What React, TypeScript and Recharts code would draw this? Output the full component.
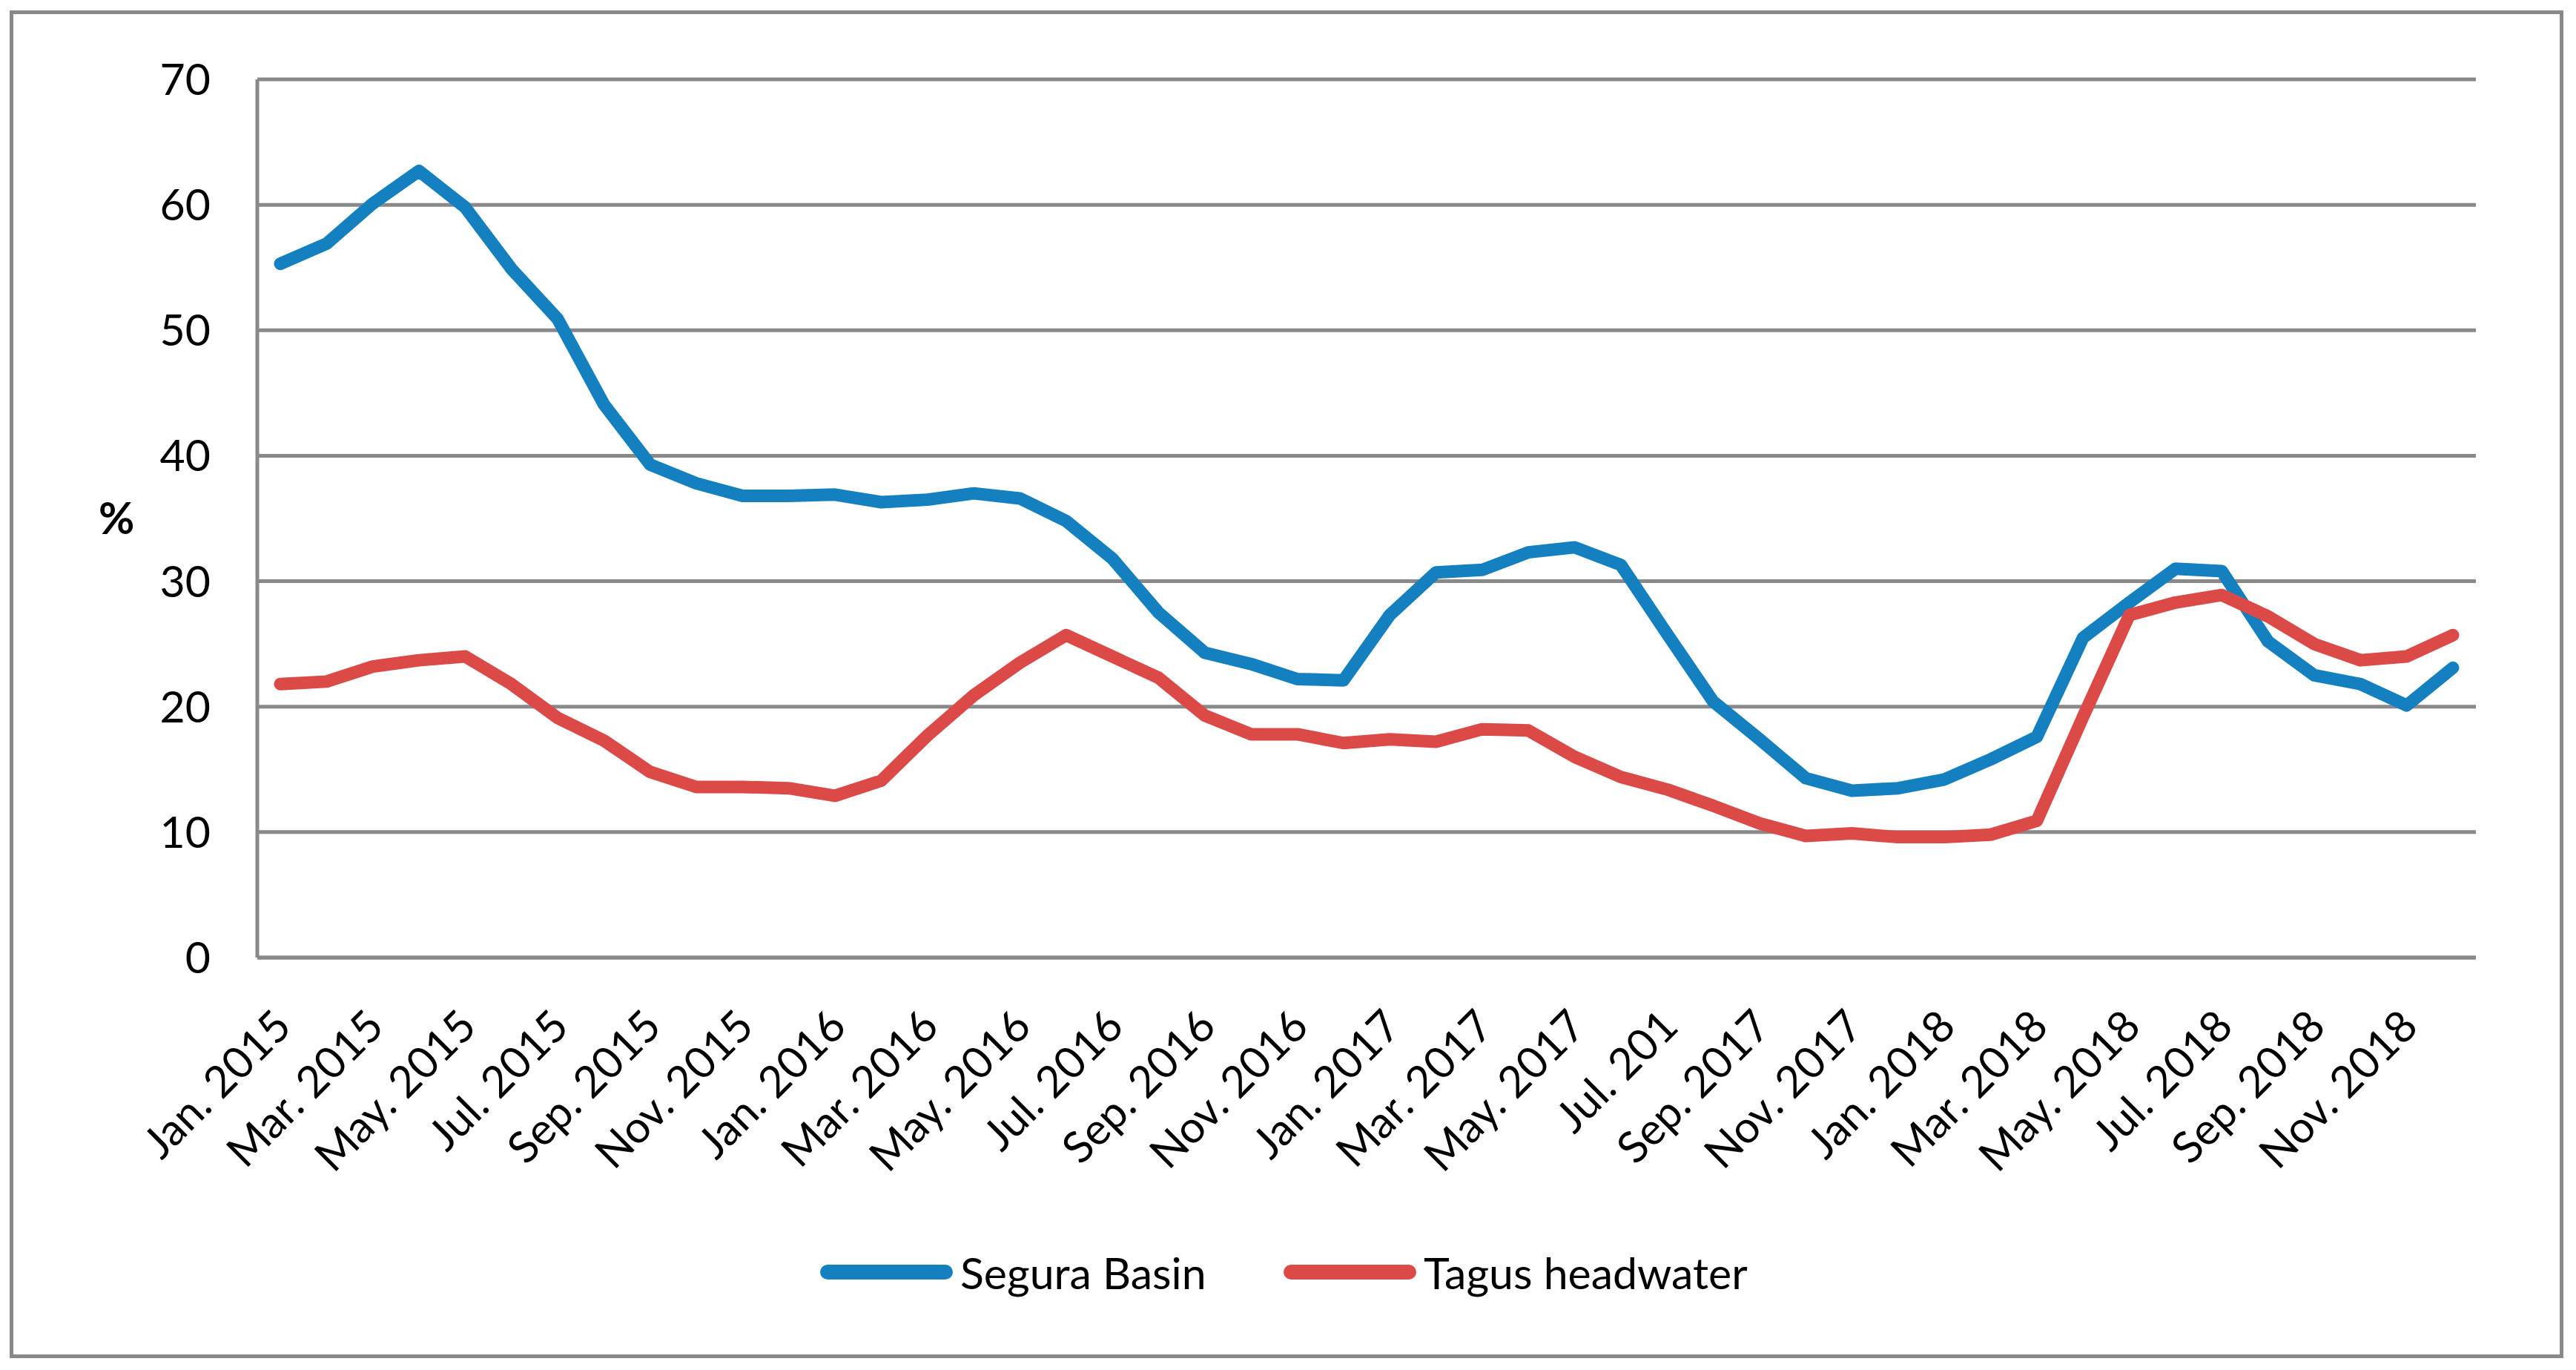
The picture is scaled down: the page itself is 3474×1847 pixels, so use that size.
import { LineChart, Line, XAxis, YAxis, CartesianGrid } from 'recharts'

// month labels as printed under the axis (the Jul. 2017 label is cut short in the source)
const months = [
  'Jan. 2015', 'Feb. 2015', 'Mar. 2015', 'Apr. 2015', 'May. 2015', 'Jun. 2015',
  'Jul. 2015', 'Aug. 2015', 'Sep. 2015', 'Oct. 2015', 'Nov. 2015', 'Dec. 2015',
  'Jan. 2016', 'Feb. 2016', 'Mar. 2016', 'Apr. 2016', 'May. 2016', 'Jun. 2016',
  'Jul. 2016', 'Aug. 2016', 'Sep. 2016', 'Oct. 2016', 'Nov. 2016', 'Dec. 2016',
  'Jan. 2017', 'Feb. 2017', 'Mar. 2017', 'Apr. 2017', 'May. 2017', 'Jun. 2017',
  'Jul. 201', 'Aug. 2017', 'Sep. 2017', 'Oct. 2017', 'Nov. 2017', 'Dec. 2017',
  'Jan. 2018', 'Feb. 2018', 'Mar. 2018', 'Apr. 2018', 'May. 2018', 'Jun. 2018',
  'Jul. 2018', 'Aug. 2018', 'Sep. 2018', 'Oct. 2018', 'Nov. 2018', 'Dec. 2018',
]

const segura = [
  55.3, 56.9, 60.1, 62.7, 59.8, 54.9, 50.9, 44.1, 39.3, 37.8, 36.8, 36.8,
  36.9, 36.3, 36.5, 37.0, 36.6, 34.8, 31.8, 27.5, 24.3, 23.4, 22.2, 22.1,
  27.3, 30.7, 30.9, 32.3, 32.7, 31.3, 25.8, 20.4, 17.4, 14.3, 13.3, 13.5,
  14.2, 15.8, 17.6, 25.5, 28.3, 31.0, 30.8, 25.2, 22.5, 21.8, 20.1, 23.1,
]

const tagus = [
  21.8, 22.0, 23.2, 23.7, 24.0, 21.8, 19.1, 17.3, 14.8, 13.6, 13.6, 13.5,
  12.9, 14.1, 17.7, 20.9, 23.5, 25.7, 24.0, 22.3, 19.3, 17.8, 17.8, 17.1,
  17.4, 17.2, 18.2, 18.1, 16.0, 14.4, 13.4, 12.1, 10.7, 9.7, 9.9, 9.6,
  9.6, 9.8, 10.9, 19.2, 27.3, 28.3, 28.9, 27.2, 25.0, 23.7, 24.0, 25.7,
]

const yTicks = [0, 10, 20, 30, 40, 50, 60, 70]

const series = [
  { key: 'segura', name: 'Segura Basin', color: '#1580c0', legendX: 1106 },
  { key: 'tagus', name: 'Tagus headwater', color: '#db4a47', legendX: 1731 },
]

const data = months.map((m, i) => ({ month: m, segura: segura[i], tagus: tagus[i] }))

const FONT = 'Lato, "Open Sans", sans-serif'
const GRID = '#898989'

function MonthTick({ x, y, payload }: any) {
  const ax = x + 18
  const ay = y + 96
  return (
    <text
      x={ax}
      y={ay}
      textAnchor="end"
      fontFamily={FONT}
      fontSize={59}
      fill="#000"
      transform={`rotate(-45, ${ax}, ${ay})`}
    >
      {payload.value}
    </text>
  )
}

export default function App() {
  return (
    <div style={{ position: 'absolute', left: 0, top: 0, width: 3474, height: 1847, background: '#fff', fontFamily: FONT }}>
      <div
        style={{
          position: 'absolute', left: 13, top: 14, width: 3444, height: 1817,
          border: `5px solid ${GRID}`, boxSizing: 'border-box',
        }}
      />
      <div style={{ position: 'absolute', left: 0, top: 0 }}>
        <LineChart width={3474} height={1847} data={data} margin={{ top: 107, right: 135, left: 0, bottom: 0 }}>
          <CartesianGrid vertical={false} stroke={GRID} strokeWidth={5} />
          <XAxis
            dataKey="month"
            interval={1}
            height={556}
            padding={{ left: 31, right: 31 }}
            tickSize={0}
            tickMargin={0}
            tickLine={false}
            axisLine={{ stroke: GRID, strokeWidth: 5 }}
            tick={<MonthTick />}
          />
          <YAxis
            domain={[0, 70]}
            ticks={yTicks}
            width={347}
            tickSize={0}
            tickMargin={63}
            tickLine={false}
            axisLine={{ stroke: GRID, strokeWidth: 5 }}
            tick={{ fontSize: 59, fill: '#000', fontFamily: FONT }}
            label={{ value: '%', position: 'insideLeft', offset: 133, fontSize: 59, fontWeight: 700, fill: '#000', fontFamily: FONT }}
          />
          {series.map((s) => (
            <Line
              key={s.key}
              type="linear"
              dataKey={s.key}
              name={s.name}
              stroke={s.color}
              strokeWidth={17}
              strokeLinejoin="round"
              strokeLinecap="round"
              dot={false}
              activeDot={false}
              isAnimationActive={false}
            />
          ))}
        </LineChart>
      </div>

      {/* legend */}
      {series.map((s) => (
        <div
          key={s.key}
          style={{ position: 'absolute', left: s.legendX, top: 1675, height: 80, display: 'flex', alignItems: 'center' }}
        >
          <span style={{ display: 'inline-block', width: 179, height: 20, borderRadius: 10, background: s.color, marginRight: 10 }} />
          <span style={{ fontSize: 59, color: '#000', lineHeight: 1 }}>{s.name}</span>
        </div>
      ))}
    </div>
  )
}
